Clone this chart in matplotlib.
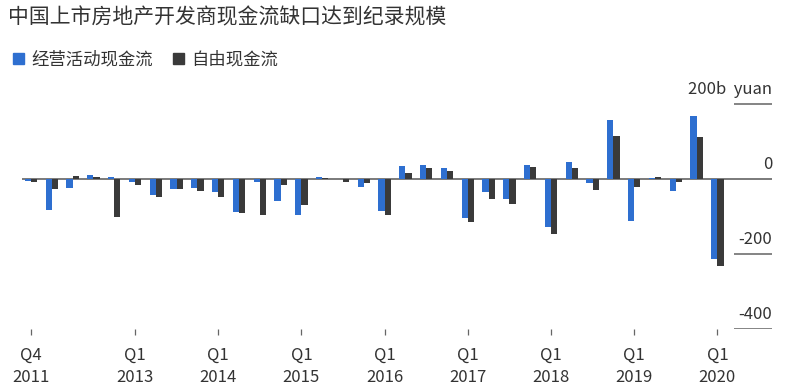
import matplotlib
matplotlib.use("Agg")
import matplotlib.pyplot as plt
from matplotlib.patches import Patch
import numpy as np

plt.rcParams['font.family'] = ['Noto Sans CJK SC', 'DejaVu Sans']

# quarterly values, Q4 2011 .. Q1 2020 (billion yuan)
quarters = ["Q4 2011",
            "Q1 2012", "Q2 2012", "Q3 2012", "Q4 2012",
            "Q1 2013", "Q2 2013", "Q3 2013", "Q4 2013",
            "Q1 2014", "Q2 2014", "Q3 2014", "Q4 2014",
            "Q1 2015", "Q2 2015", "Q3 2015", "Q4 2015",
            "Q1 2016", "Q2 2016", "Q3 2016", "Q4 2016",
            "Q1 2017", "Q2 2017", "Q3 2017", "Q4 2017",
            "Q1 2018", "Q2 2018", "Q3 2018", "Q4 2018",
            "Q1 2019", "Q2 2019", "Q3 2019", "Q4 2019",
            "Q1 2020"]
operating_cf = [-5, -82, -25, 11, 6, -8, -42, -28, -24, -35, -89, -7, -60,
                -96, 6, 0, -21, -86, 34, 37, 30, -105, -34, -54, 36,
                -129, 44, -12, 157, -113, 2, -31, 168, -214]
free_cf = [-8, -27, 7, 4, -102, -15, -48, -28, -31, -48, -92, -96, -15,
           -69, 2, -9, -11, -97, 17, 30, 21, -116, -54, -66, 33,
           -146, 29, -29, 115, -21, 4, -8, 112, -231]
tick_quarters = ["Q4 2011", "Q1 2013", "Q1 2014", "Q1 2015", "Q1 2016",
                 "Q1 2017", "Q1 2018", "Q1 2019", "Q1 2020"]
y_labels = [200, 0, -200, -400]

blue = "#2e6fd0"
dark = "#3a3a3a"
text_color = "#333333"

x = np.arange(len(quarters))
w = 0.3

fig = plt.figure(figsize=(7.85, 3.9), dpi=100)
ax = fig.add_axes([22 / 785, 61 / 390, 750 / 785, 239 / 390])

ax.bar(x - w / 2, operating_cf, width=w, color=blue)
ax.bar(x + w / 2, free_cf, width=w, color=dark)

xl = (22 - 31) / 20.8
xr = (772 - 31) / 20.8
ax.set_xlim(xl, xr)
ax.set_ylim(-400, 237)

ax.axhline(0, color="#707070", lw=1.3, zorder=0)
short_left = (734 - 31) / 20.8
for v in y_labels:
    if v != 0:
        ax.hlines(v, short_left, xr, color="#707070", lw=1.2)
    label = "200b  yuan" if v == 200 else str(v)
    ax.text(xr, v + 27, label, ha="right", va="baseline",
            fontsize=12, color=text_color, fontweight="light")

for s in ax.spines.values():
    s.set_visible(False)
ax.set_yticks([])

tick_pos = [quarters.index(q) for q in tick_quarters]
ax.set_xticks(tick_pos)
ax.set_xticklabels([q.replace(" ", "\n") for q in tick_quarters],
                   fontsize=12, color=text_color, linespacing=1.4,
                   fontweight="light")
ax.tick_params(axis="x", length=4, width=0.9, color="#666666", pad=9)

fig.text(8 / 785, 1 - 6 / 390, "中国上市房地产开发商现金流缺口达到纪录规模",
         ha="left", va="top", fontsize=15, color=text_color)

handles = [Patch(color=blue, label="经营活动现金流"),
           Patch(color=dark, label="自由现金流")]
fig.legend(handles=handles, loc="upper left", bbox_to_anchor=(4 / 785, 1 - 42 / 390),
           ncol=2, frameon=False, handlelength=0.65, handleheight=0.65,
           handletextpad=0.45, columnspacing=1.1, borderpad=0,
           prop={"size": 12.5, "weight": "light"}, labelcolor=text_color)

fig.savefig("out.png", dpi=100)
